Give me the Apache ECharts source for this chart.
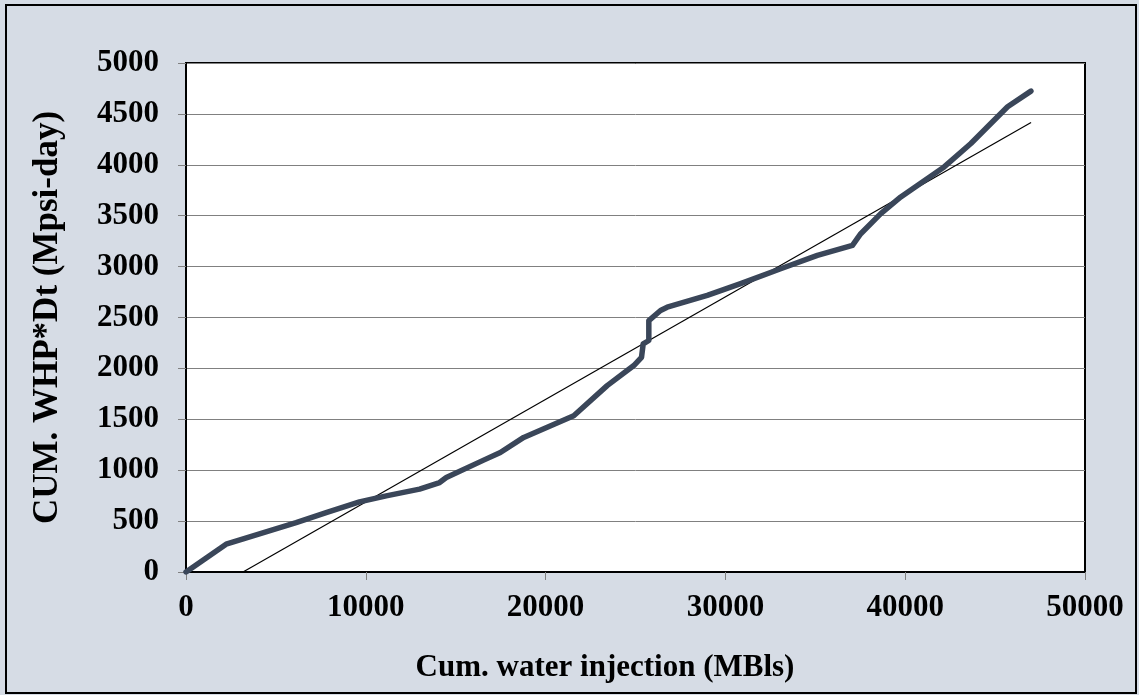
<!DOCTYPE html>
<html>
<head>
<meta charset="utf-8">
<script src="https://cdn.jsdelivr.net/npm/echarts@6/dist/echarts.min.js"></script>
<style>
html,body{margin:0;padding:0;background:#D6DCE5;}
#chart{width:1139px;height:695px;}
</style>
</head>
<body>
<div id="chart"></div>
<script>
// Cumulative water injection (MBls) vs CUM. WHP*Dt (Mpsi-day)
var injX = [0, 2230, 6125, 7795, 9650, 11136, 12990, 14105, 14477, 16555, 17483, 18781, 21565, 23424, 24906, 25334, 25428, 25741, 25741, 26392, 26763, 28990, 30846, 33073, 35116, 37066, 37528, 38641, 39755, 42166, 43653, 45694, 46993];
var whpY = [0, 273, 485, 584, 689, 748, 814, 879, 928, 1099, 1174, 1322, 1535, 1831, 2028, 2109, 2241, 2274, 2470, 2569, 2601, 2717, 2832, 2979, 3110, 3209, 3323, 3520, 3684, 3979, 4209, 4570, 4724];
// Linear trend line end points
var trendX = [3170, 47000];
var trendY = [0, 4415];
var xTicks = [0, 10000, 20000, 30000, 40000, 50000];
var yTicks = [0, 500, 1000, 1500, 2000, 2500, 3000, 3500, 4000, 4500, 5000];
var xTitle = 'Cum. water injection (MBls)';
var yTitle = 'CUM. WHP*Dt (Mpsi-day)';

var FONT = '"Liberation Serif", "Times New Roman", serif';
var chart = echarts.init(document.getElementById('chart'), null, {renderer: 'canvas'});
var mainData = injX.map(function (x, i) { return [x, whpY[i]]; });
var trendData = trendX.map(function (x, i) { return [x, trendY[i]]; });
function plain(v) { return String(v); }

chart.setOption({
  backgroundColor: '#D6DCE5',
  animation: false,
  grid: {
    left: 186, right: 54, top: 63, bottom: 123,
    show: true, backgroundColor: '#FFFFFF', borderColor: '#000000', borderWidth: 2
  },
  graphic: [
    {type: 'rect', shape: {x: 6, y: 5, width: 1130, height: 688},
     style: {fill: 'none', stroke: '#000000', lineWidth: 2}, z: 100},
    {type: 'text', x: 605, y: 668,
     style: {text: xTitle, font: 'bold 31px ' + FONT, fill: '#000000',
             textAlign: 'center', textVerticalAlign: 'middle'}}
  ],
  xAxis: {
    type: 'value', min: xTicks[0], max: xTicks[xTicks.length - 1], interval: 10000,
    axisLine: {show: true, lineStyle: {color: '#000000', width: 2}},
    axisTick: {show: true, inside: false, length: 8, lineStyle: {color: '#808080', width: 1}},
    splitLine: {show: false},
    axisLabel: {margin: 20, color: '#000000', fontFamily: FONT, fontWeight: 'bold', fontSize: 31, formatter: plain}
  },
  yAxis: {
    type: 'value', min: yTicks[0], max: yTicks[yTicks.length - 1], interval: 500,
    name: yTitle, nameLocation: 'middle', nameGap: 121, nameRotate: 90,
    nameTextStyle: {color: '#000000', fontFamily: FONT, fontWeight: 'bold', fontSize: 35},
    axisLine: {show: true, lineStyle: {color: '#000000', width: 2}},
    axisTick: {show: true, inside: false, length: 8, lineStyle: {color: '#808080', width: 1}},
    splitLine: {show: true, lineStyle: {color: '#808080', width: 1}},
    axisLabel: {margin: 27, color: '#000000', fontFamily: FONT, fontWeight: 'bold', fontSize: 31, formatter: plain}
  },
  series: [
    {type: 'line', data: trendData, showSymbol: false, symbol: 'none',
     lineStyle: {color: '#000000', width: 1.2}, z: 3},
    {type: 'line', data: mainData, showSymbol: false, symbol: 'none',
     lineStyle: {color: '#3A4659', width: 5.5, cap: 'round', join: 'round'}, z: 4}
  ]
});
</script>
</body>
</html>
